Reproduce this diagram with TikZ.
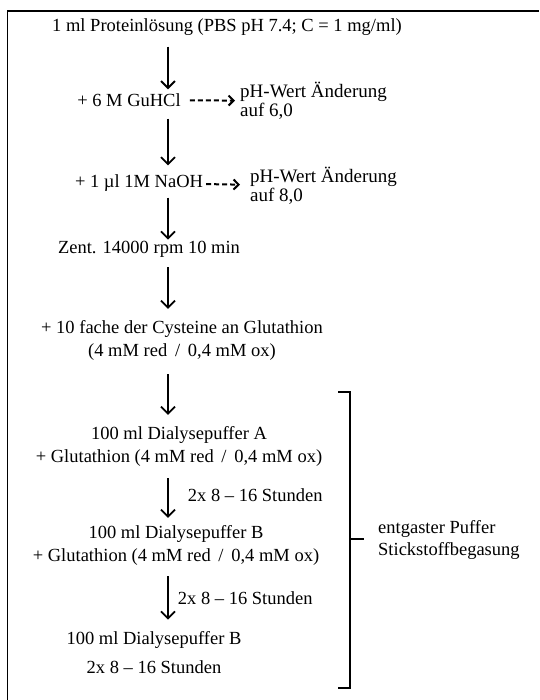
\documentclass[tikz,border=0pt]{standalone}
\usepackage{fontspec}
\setmainfont{Liberation Serif}
\usetikzlibrary{arrows.meta}

\begin{document}
\begin{tikzpicture}
[x=1pt,y=-1pt,%
  textDecorate/.style={align=center,inner sep=1pt,font=\fontsize{18.5}{23}\selectfont},%
  noteDecorate/.style={align=left,inner sep=1pt,anchor=west,font=\fontsize{19}{19}\selectfont},%
  arrowDecorate/.style={-{Straight Barb[length=7pt,width=14pt]},line width=1.8pt},%
  dashDecorate/.style={-{Straight Barb[length=5pt,width=10pt]},line width=2pt,dash pattern=on 5pt off 3pt},%
  braceDecorate/.style={line width=1.6pt}]
\useasboundingbox (0,0) rectangle (539,700);
%% frame
\draw[line width=1.4pt] (7.5,700) -- (7.5,11) -- (539,11);
%% axis of the main arrows
\coordinate (axis) at (168,0);
%% steps
\node (protein) at (227,27) [textDecorate] {1 ml Proteinlösung (PBS pH 7.4; C = 1 mg/ml)};
\node (guhcl) at (129,100) [textDecorate] {+ 6 M GuHCl};
\node (phsix) at (239,101) [noteDecorate] {pH-Wert Änderung\\auf 6,0};
\node (naoh) at (139,183) [textDecorate] {+ 1 µl 1M NaOH};
\node (pheight) at (249,186) [noteDecorate] {pH-Wert Änderung\\auf 8,0};
\node (zent) at (149,249) [textDecorate] {Zent. 14000 rpm 10 min};
\node (cystein) at (182,340) [textDecorate] {+ 10 fache der Cysteine an Glutathion\\(4 mM red \,/\, 0,4 mM ox)};
\node (dialyseA) at (179,446) [textDecorate] {100 ml Dialysepuffer A\\+ Glutathion (4 mM red \,/\, 0,4 mM ox)};
\node (dialyseB) at (176,545) [textDecorate] {100 ml Dialysepuffer B\\+ Glutathion (4 mM red \,/\, 0,4 mM ox)};
\node (dialyseC) at (154,653) [textDecorate] {100 ml Dialysepuffer B\\[6pt]2x 8 -- 16 Stunden};
\node (entgast) at (377,540) [noteDecorate,font=\fontsize{18.5}{22}\selectfont] {entgaster Puffer\\Stickstoffbegasung};
%% arrows
\path
\foreach \startnode/\endnode/\s/\e in {protein/guhcl/10/3, guhcl/naoh/11/8, naoh/zent/5/0,
  zent/cystein/9/10, cystein/dialyseA/13/10}
{
  (\startnode.south -| axis) edge[arrowDecorate,shorten <=\s pt,shorten >=\e pt] (\endnode.north -| axis)
};
\path (dialyseA.south -| axis) edge[arrowDecorate,shorten <=11pt,shorten >=6pt]
  node[right=18pt,textDecorate] {2x 8 -- 16 Stunden} (dialyseB.north -| axis);
\path (dialyseB.south -| axis) edge[arrowDecorate,shorten <=10pt,shorten >=11pt]
  node[right=8pt,textDecorate] {2x 8 -- 16 Stunden} (dialyseC.north -| axis);
\draw[dashDecorate,shorten <=8pt,shorten >=4pt] (guhcl) -- (phsix);
\draw[dashDecorate,shorten <=2pt,shorten >=9pt] (naoh) -- (pheight);
%% bracket
\draw[braceDecorate] (338,392) -- (350,392) -- (350,688) -- (338,688);
\draw[braceDecorate] (350,539) -- (364,539);
\end{tikzpicture}
\end{document}
